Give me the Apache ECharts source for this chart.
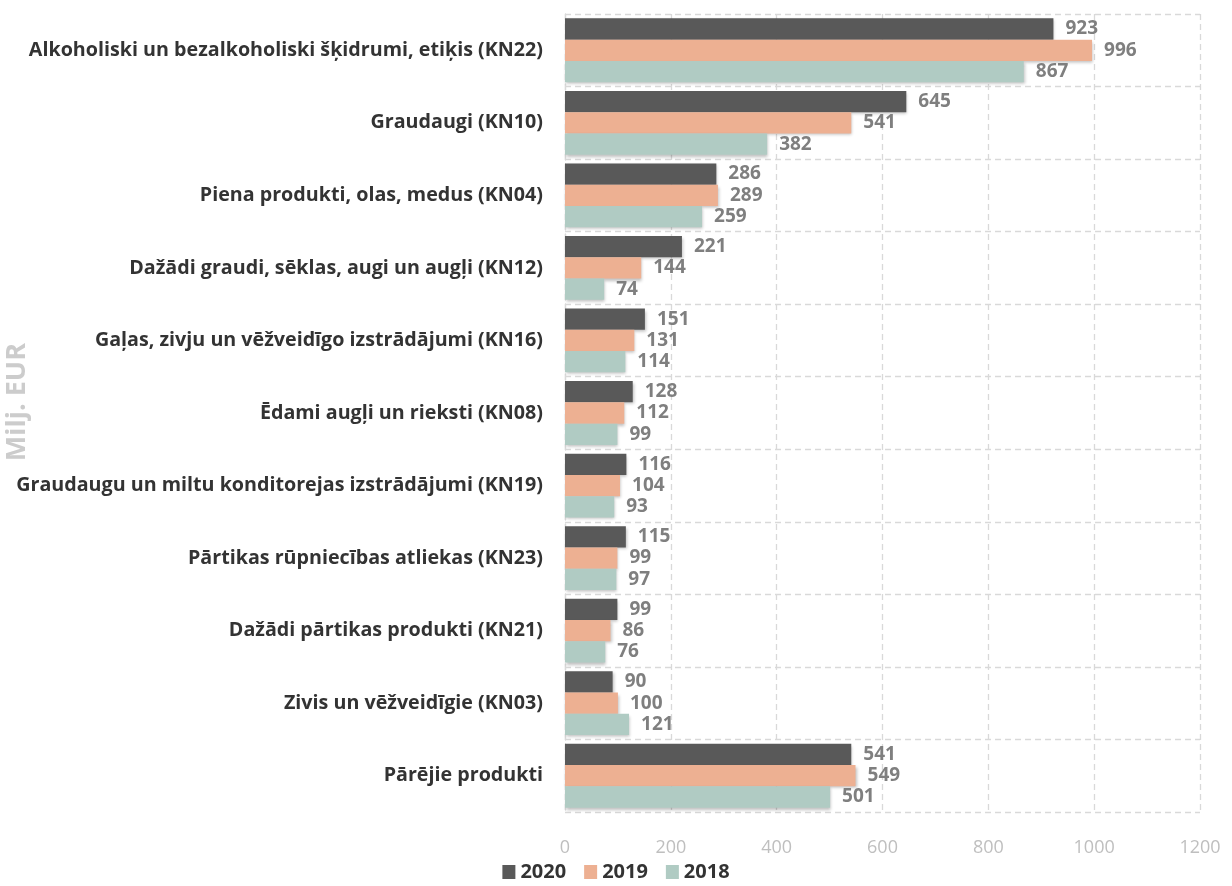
<!DOCTYPE html>
<html><head><meta charset="utf-8">
<script src="https://cdn.jsdelivr.net/npm/echarts@6/dist/echarts.min.js"></script>
<style>html,body{margin:0;padding:0;background:#fff}#c{width:1232px;height:886px}</style>
</head><body><div id="c"></div>
<script>
const categories = [
  "Alkoholiski un bezalkoholiski šķidrumi, etiķis (KN22)",
  "Graudaugi (KN10)",
  "Piena produkti, olas, medus (KN04)",
  "Dažādi graudi, sēklas, augi un augļi (KN12)",
  "Gaļas, zivju un vēžveidīgo izstrādājumi (KN16)",
  "Ēdami augļi un rieksti (KN08)",
  "Graudaugu un miltu konditorejas izstrādājumi (KN19)",
  "Pārtikas rūpniecības atliekas (KN23)",
  "Dažādi pārtikas produkti (KN21)",
  "Zivis un vēžveidīgie (KN03)",
  "Pārējie produkti"
];
const v2020 = [923, 645, 286, 221, 151, 128, 116, 115, 99, 90, 541];
const v2019 = [996, 541, 289, 144, 131, 112, 104, 99, 86, 100, 549];
const v2018 = [867, 382, 259, 74, 114, 99, 93, 97, 76, 121, 501];
const seriesNames = ["2020", "2019", "2018"];
const colors = ["#595959", "#edb092", "#b0cbc3"];
const FONT = "'Open Sans', 'Noto Sans', sans-serif";

const chart = echarts.init(document.getElementById('c'));
function mk(name, data, color) {
  return {
    name, type: 'bar', data,
    barGap: '0%', barCategoryGap: '12%',
    itemStyle: { color, shadowColor: 'rgba(0,0,0,0.25)', shadowBlur: 3, shadowOffsetX: 1, shadowOffsetY: 2 },
    label: { show: true, position: 'right', distance: 12, color: '#7f7f7f', fontWeight: 'bold', fontSize: 19, fontFamily: FONT }
  };
}
chart.setOption({
  animation: false,
  color: colors,
  textStyle: { fontFamily: FONT },
  grid: { left: 565, right: 32, top: 14, bottom: 74, containLabel: false },
  legend: {
    bottom: -1, left: 'center', itemWidth: 13, itemHeight: 14, itemGap: 18,
    icon: 'rect',
    textStyle: { color: '#333', fontWeight: 'bold', fontSize: 20, fontFamily: FONT },
    data: seriesNames
  },
  xAxis: {
    type: 'value', min: 0, max: 1200, interval: 200,
    axisLine: { show: false }, axisTick: { show: false },
    axisLabel: { color: '#bfbfbf', fontSize: 18, margin: 27, fontFamily: FONT, formatter: v => String(v) },
    splitLine: { lineStyle: { type: [6, 4], color: '#d9d9d9', width: 1.3 } }
  },
  yAxis: {
    type: 'category', data: categories, inverse: true,
    axisLine: { show: true, lineStyle: { type: [6, 4], color: '#d9d9d9', width: 1.3 } },
    axisTick: { show: false },
    axisLabel: { color: '#333', fontWeight: 'bold', fontSize: 19.7, margin: 22, fontFamily: FONT },
    splitLine: { show: true, lineStyle: { type: [6, 4], color: '#d9d9d9', width: 1.3 } }
  },
  graphic: [{
    type: 'text', left: 4, top: 343, rotation: Math.PI / 2,
    style: { text: 'Milj. EUR', fill: '#cccccc', font: "bold 27px 'Open Sans', sans-serif" }
  }],
  series: [mk(seriesNames[0], v2020, colors[0]), mk(seriesNames[1], v2019, colors[1]), mk(seriesNames[2], v2018, colors[2])]
});
</script></body></html>
